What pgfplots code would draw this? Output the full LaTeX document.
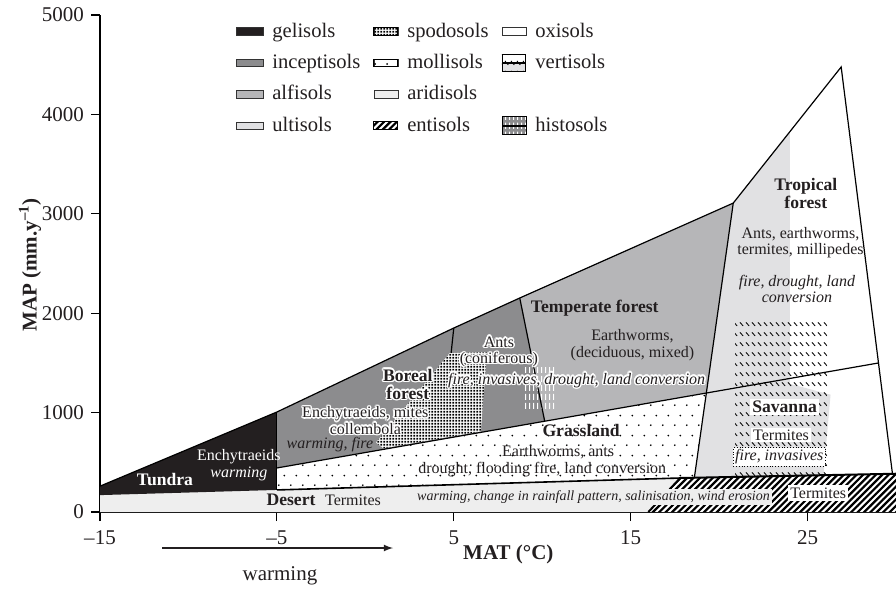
\documentclass[border=0pt]{standalone}
\usepackage{fontspec}
\setmainfont{Liberation Serif}
\usepackage{pgfplots}
\pgfplotsset{compat=1.18}
\usetikzlibrary{patterns}
\usepackage{contour}
\contourlength{0.7pt}
\contournumber{16}
\definecolor{gel}{HTML}{231F20}
\definecolor{incep}{HTML}{8C8C8E}
\definecolor{alfi}{HTML}{B6B6B8}
\definecolor{ulti}{HTML}{E1E1E3}
\definecolor{aridi}{HTML}{EEEEEE}
\definecolor{txt}{HTML}{231F20}
% sparse staggered dots (mollisols)
\pgfdeclarepatternformonly{molli}{\pgfqpoint{0pt}{0pt}}{\pgfqpoint{6pt}{10pt}}{\pgfqpoint{6pt}{10pt}}{%
  \pgfpathcircle{\pgfqpoint{1.5pt}{2.5pt}}{0.5pt}%
  \pgfpathcircle{\pgfqpoint{4.5pt}{7.5pt}}{0.5pt}\pgfusepath{fill}}
% dense dots (spodosols)
\pgfdeclarepatternformonly{spodo}{\pgfqpoint{0pt}{0pt}}{\pgfqpoint{1.6pt}{1.6pt}}{\pgfqpoint{1.6pt}{1.6pt}}{%
  \pgfpathrectangle{\pgfqpoint{0.3pt}{0.3pt}}{\pgfqpoint{1.0pt}{1.0pt}}\pgfusepath{fill}}
% short vertical dashes (histosols)
\pgfdeclarepatternformonly{histo}{\pgfqpoint{0pt}{0pt}}{\pgfqpoint{2pt}{4.5pt}}{\pgfqpoint{2pt}{4.5pt}}{%
  \pgfpathrectangle{\pgfqpoint{0.7pt}{0.6pt}}{\pgfqpoint{0.6pt}{3.3pt}}\pgfusepath{fill}}
% rows of short back-slashes (vertisols)
\pgfdeclarepatternformonly{verti}{\pgfqpoint{0pt}{0pt}}{\pgfqpoint{2.8pt}{5pt}}{\pgfqpoint{2.8pt}{5pt}}{%
  \pgfsetlinewidth{0.45pt}\pgfpathmoveto{\pgfqpoint{0.5pt}{4.2pt}}\pgfpathlineto{\pgfqpoint{2.2pt}{2.2pt}}\pgfusepath{stroke}}
% bold diagonal lines (entisols)
\pgfdeclarepatternformonly{enti}{\pgfqpoint{-1pt}{-1pt}}{\pgfqpoint{4.2pt}{4.2pt}}{\pgfqpoint{3.2pt}{3.2pt}}{%
  \pgfsetlinewidth{1.1pt}\pgfpathmoveto{\pgfqpoint{0pt}{0pt}}\pgfpathlineto{\pgfqpoint{3.3pt}{3.3pt}}\pgfusepath{stroke}}
\newcommand{\rs}{\fontsize{8}{9.2}\selectfont}
\newcommand{\rsb}{\fontsize{8.8}{10}\selectfont\bfseries}
\newcommand{\hal}[1]{\contour{white}{#1}}
\begin{document}
\begin{tikzpicture}
\begin{axis}[
  scale only axis, width=398pt, height=248.5pt,
  xmin=-15, xmax=30, ymin=0, ymax=5000,
  axis x line*=bottom, axis y line*=left,
  axis line style={line width=0.6pt, -},
  xtick={-15,-5,5,15,25}, xticklabels={\textendash15,\textendash5,5,15,25},
  ytick={0,1000,2000,3000,4000,5000}, yticklabels={0,1000,2000,3000,4000,5000},
  tick style={black, line width=0.6pt}, major tick length=4.5pt, tick align=outside,
  ticklabel style={font=\fontsize{10.5}{12}\selectfont, text=txt},
  xticklabel style={yshift=-1.5pt},
  xlabel={\textbf{MAT (°C)}}, ylabel={\textbf{MAP (mm.y\textsuperscript{\textendash1})}},
  label style={font=\fontsize{10.5}{12}\selectfont, text=txt},
  xlabel style={at={(rel axis cs:0.513,-0.085)}, anchor=center},
  ylabel style={at={(rel axis cs:-0.088,0.497)}, anchor=center},
  clip=false,
  legend columns=3,
  legend cell align=left,
  legend style={at={(rel axis cs:0.163,0.999)}, anchor=north west, draw=none, fill=none,
     font=\fontsize{10.3}{12}\selectfont, row sep=4pt,
     nodes={inner sep=1.5pt, text=txt},
     /tikz/every odd column/.append style={column sep=3pt},
     /tikz/every even column/.append style={column sep=5pt}},
]
\coordinate (sw) at (rel axis cs:0,0);
\coordinate (ne) at (rel axis cs:1,1);
% legend
\addlegendimage{legend image code/.code={\draw[black!80,line width=0.3pt,fill=gel] (0pt,-1.9pt) rectangle (13.3pt,1.9pt);}}
\addlegendentry{gelisols}
\addlegendimage{legend image code/.code={\draw[black!80,line width=0.3pt,fill=white] (0pt,-1.9pt) rectangle (12pt,1.9pt);\fill[pattern=spodo] (0pt,-1.9pt) rectangle (12pt,1.9pt);}}
\addlegendentry{spodosols}
\addlegendimage{legend image code/.code={\draw[black!80,line width=0.3pt,fill=white] (0pt,-1.9pt) rectangle (12pt,1.9pt);}}
\addlegendentry{oxisols}
\addlegendimage{legend image code/.code={\draw[black!80,line width=0.3pt,fill=incep] (0pt,-1.9pt) rectangle (13.3pt,1.9pt);}}
\addlegendentry{inceptisols}
\addlegendimage{legend image code/.code={\draw[black!80,line width=0.3pt,fill=white] (0pt,-1.9pt) rectangle (12pt,1.9pt);\fill[pattern=molli] (0pt,-1.9pt) rectangle (12pt,1.9pt);}}
\addlegendentry{mollisols}
\addlegendimage{legend image code/.code={\draw[black!70,line width=0.3pt,fill=white] (0pt,0.3pt) rectangle (11.5pt,4.2pt);\fill[pattern=verti] (0pt,0.3pt) rectangle (11.5pt,4.2pt);\draw[black!70,line width=0.3pt,fill=ulti] (0pt,-4.2pt) rectangle (11.5pt,-0.3pt);\fill[pattern=verti] (0pt,-4.2pt) rectangle (11.5pt,-0.3pt);}}
\addlegendentry{vertisols}
\addlegendimage{legend image code/.code={\draw[black!80,line width=0.3pt,fill=alfi] (0pt,-1.9pt) rectangle (13.3pt,1.9pt);}}
\addlegendentry{alfisols}
\addlegendimage{legend image code/.code={\draw[black!80,line width=0.3pt,fill=aridi] (0pt,-1.9pt) rectangle (12pt,1.9pt);}}
\addlegendentry{aridisols}
\addlegendimage{empty legend}
\addlegendentry{}
\addlegendimage{legend image code/.code={\draw[black!80,line width=0.3pt,fill=ulti] (0pt,-1.9pt) rectangle (13.3pt,1.9pt);}}
\addlegendentry{ultisols}
\addlegendimage{legend image code/.code={\fill[pattern=enti] (0pt,-1.9pt) rectangle (12pt,1.9pt);}}
\addlegendentry{entisols}
\addlegendimage{legend image code/.code={\fill[incep] (0pt,0.3pt) rectangle (12pt,4.4pt);\fill[pattern=histo,pattern color=white] (0pt,0.3pt) rectangle (12pt,4.4pt);\fill[incep] (0pt,-4.4pt) rectangle (12pt,-0.3pt);\fill[pattern=histo,pattern color=white] (0pt,-4.4pt) rectangle (12pt,-0.3pt);}}
\addlegendentry{histosols}
% ---- regions ----
% desert (aridisols)
\addplot[forget plot, draw=none, fill=aridi] coordinates {(-15,0) (-15,170) (17.8,342) (16,0)} -- cycle;
% tundra (gelisols)
\addplot[forget plot, draw=none, fill=gel] coordinates {(-15,170) (-15,260) (-5,1006) (-5,222)} -- cycle;
% boreal forest (inceptisols)
\addplot[forget plot, draw=none, fill=incep] coordinates {(-5,443) (-5,1006) (5,1851) (8.73,2153) (10.14,913)} -- cycle;
% temperate forest (alfisols)
\addplot[forget plot, draw=none, fill=alfi] coordinates {(8.73,2153) (20.8,3108) (19.28,1197) (10.14,913)} -- cycle;
% grassland (mollisols)
\addplot[forget plot, draw=none, fill=white] coordinates {(-5,222) (-5,443) (19.28,1197) (18.6,345)} -- cycle;
\addplot[forget plot, draw=none, pattern=molli] coordinates {(-5,222) (-5,443) (19.28,1197) (18.6,345)} -- cycle;
% tropical forest and savanna (oxisols)
\addplot[forget plot, draw=none, fill=white] coordinates {(20.8,3108) (26.9,4477) (29.0,1499) (19.28,1197)} -- cycle;
\addplot[forget plot, draw=none, fill=white] coordinates {(19.28,1197) (29.0,1499) (29.8,384) (18.6,345)} -- cycle;
% ultisols
\addplot[forget plot, draw=none, fill=ulti] coordinates {(20.8,3108) (24,3826) (24,1290) (26.3,1180) (25.9,372) (18.6,345)} -- cycle;
% entisols
\addplot[forget plot, draw=none, fill=white] coordinates {(16,0) (17.8,342) (30,385) (30,0)} -- cycle;
\addplot[forget plot, draw=none, pattern=enti] coordinates {(16,0) (17.8,342) (30,385) (30,0)} -- cycle;
% spodosols
\addplot[forget plot, draw=none, fill=white] coordinates {(4.77,1600) (6.92,1610) (6.81,1449) (6.53,810) (1.0,640) (0.6,700)} -- cycle;
\addplot[forget plot, draw=none, pattern=spodo] coordinates {(4.77,1600) (6.92,1610) (6.81,1449) (6.53,810) (1.0,640) (0.6,700)} -- cycle;
% histosols
\addplot[forget plot, draw=none, pattern=histo, pattern color=white] coordinates {(9.0,1046) (9.0,1449) (10.7,1449) (10.7,1046)} -- cycle;
% vertisols
\addplot[forget plot, draw=none, pattern=verti] coordinates {(20.9,372) (20.9,1911) (26.1,1911) (26.1,372)} -- cycle;
% ---- outlines ----
\addplot[forget plot, no markers, black, line width=0.6pt] coordinates {(-15,260) (-5,1006) (5,1851) (8.73,2153) (20.8,3108) (26.9,4477) (29.8,384)};
\addplot[forget plot, no markers, black, line width=0.6pt] coordinates {(-5,222) (-5,1006)};
\addplot[forget plot, no markers, black, line width=0.6pt] coordinates {(5,1851) (4.85,1600)};
\addplot[forget plot, no markers, black, line width=0.6pt] coordinates {(8.73,2153) (10.14,913)};
\addplot[forget plot, no markers, black, line width=0.6pt] coordinates {(-5,443) (29.0,1499)};
\addplot[forget plot, no markers, black, line width=0.6pt] coordinates {(20.8,3108) (18.6,345)};
\addplot[forget plot, no markers, black, line width=0.8pt] coordinates {(-5,222) (17.8,342)};
\addplot[forget plot, no markers, black, line width=1pt] coordinates {(16,0) (17.8,342) (30,385)};
% ---- texts ----
\node[font=\rsb, text=white] at (axis cs:-11.33,322) {Tundra};
\node[font=\rs, text=white, align=center] at (axis cs:-7.15,470) {Enchytraeids\\[-0.5pt]\textit{warming}};
\node[font=\rsb, text=txt] at (axis cs:-4.2,121) {Desert};
\node[font=\rs, text=txt] at (axis cs:-0.7,121) {Termites};
\node[font=\fontsize{7}{8.4}\selectfont\itshape, text=txt, fill=aridi, inner sep=1pt] at (axis cs:12.9,151) {warming, change in rainfall pattern, salinisation, wind erosion};
\node[font=\rs, text=txt, fill=white, inner sep=1.2pt] at (axis cs:25.6,191) {Termites};
\node[font=\rs, text=txt, align=center] at (axis cs:0,915) {\hal{Enchytraeids, mites}\\[-1pt]\hal{collembola}};
\node[font=\rs\itshape, text=txt] at (axis cs:-2.0,674) {warming, fire};
\node[font=\rsb, text=txt, align=center] at (axis cs:2.4,1278) {\hal{Boreal}\\[-1pt]\hal{forest}};
\node[font=\rs, text=txt, align=center] at (axis cs:7.55,1605) {\hal{Ants}\\[-1pt]\hal{(coniferous)}};
\node[font=\rs\itshape, text=txt] at (axis cs:11.95,1318) {\hal{fire, invasives, drought, land conversion}};
\node[font=\rsb, text=txt] at (axis cs:12.97,2052) {Temperate forest};
\node[font=\rs, text=txt, align=center] at (axis cs:15.1,1680) {Earthworms,\\[-1pt](deciduous, mixed)};
\node[font=\rsb, text=txt] at (axis cs:12.2,825) {Grassland};
\node[font=\rs, text=txt] at (axis cs:10.9,604) {Earthworms, ants};
\node[font=\rs, text=txt] at (axis cs:10.0,423) {drought, flooding fire, land conversion};
\node[font=\rsb, text=txt, align=center] at (axis cs:24.9,3204) {Tropical\\[-1pt]forest};
\node[font=\rs, text=txt, align=center] at (axis cs:24.6,2711) {Ants, earthworms,\\[-1pt]termites, millipedes};
\node[font=\rs\itshape, text=txt, align=center] at (axis cs:24.4,2243) {fire, drought, land\\[-1pt]conversion};
\node[font=\rsb, text=txt, fill=white, inner sep=1pt] at (axis cs:23.7,1056) {Savanna};
\node[font=\rs, text=txt, fill=white, inner sep=1pt] at (axis cs:23.5,775) {Termites};
\node[font=\rs\itshape, text=txt, fill=white, inner sep=1pt, draw=black, densely dotted, line width=0.4pt] at (axis cs:23.4,553) {fire, invasives};
\end{axis}
% warming arrow
\draw[-latex, line width=0.6pt, txt] ([xshift=31pt,yshift=-18pt]sw) -- ([xshift=146.5pt,yshift=-18pt]sw);
\node[font=\fontsize{10.5}{12}\selectfont, text=txt] at ([xshift=90pt,yshift=-32pt]sw) {warming};
\pgfresetboundingbox
\path ([xshift=-50pt,yshift=-38.5pt]sw) rectangle ([yshift=7.5pt]ne);
\end{tikzpicture}
\end{document}
